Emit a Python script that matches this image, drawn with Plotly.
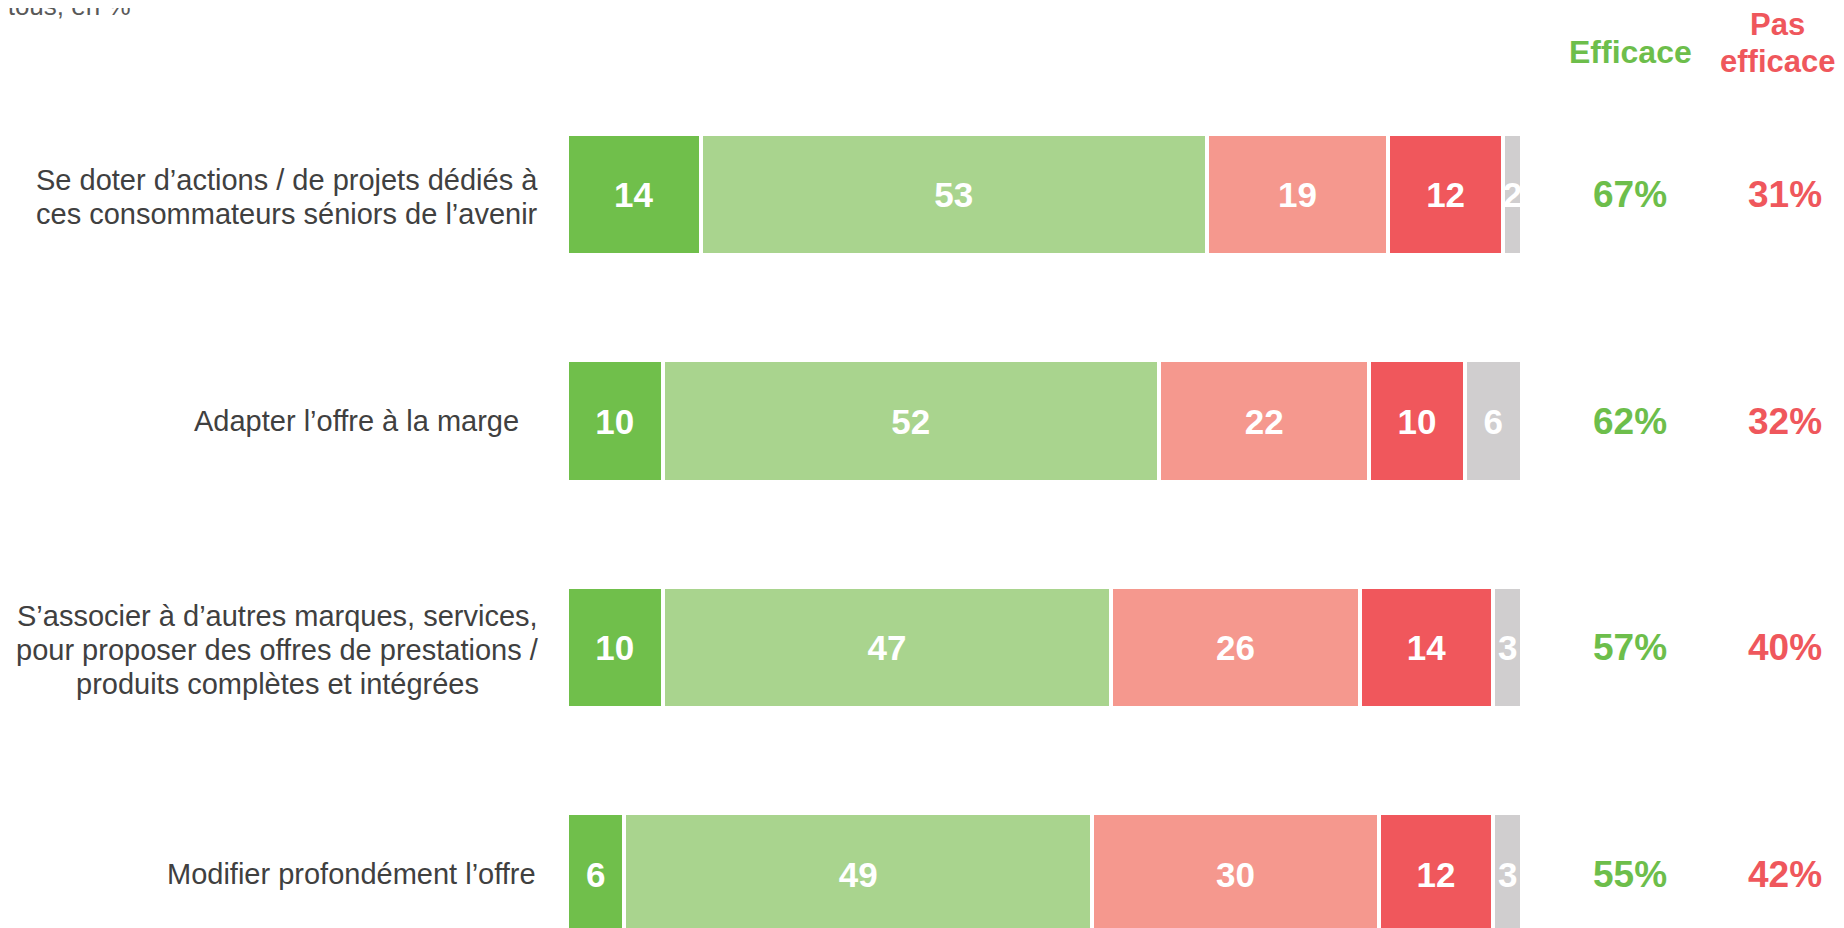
import plotly.graph_objects as go

# --- Données ---
categories = [
    "Se doter d’actions / de projets dédiés à<br>ces consommateurs séniors de l’avenir",
    "Adapter l’offre à la marge",
    "S’associer à d’autres marques, services,<br>pour proposer des offres de prestations /<br>produits complètes et intégrées",
    "Modifier profondément l’offre",
]
series_names = ["Très efficace", "Plutôt efficace", "Plutôt pas efficace", "Pas du tout efficace", "Ne sait pas"]
very_eff = [14, 10, 10, 6]
rather_eff = [53, 52, 47, 49]
rather_not = [19, 22, 26, 30]
not_at_all = [12, 10, 14, 12]
dont_know = [2, 6, 3, 3]
efficace = [67, 62, 57, 55]
pas_efficace = [31, 32, 40, 42]
header_eff = "Efficace"
header_pas = "Pas<br>efficace"
top_note = "à tous, en %"

colors = ["#70BF4B", "#A9D48E", "#F5988E", "#F0575C", "#D0CECF"]
GREEN_TXT = "#6DBE4B"
RED_TXT = "#EF575C"
LABEL_COL = "#404040"
FONT = "Arial, Liberation Sans, sans-serif"

# la page ajoute une marge de 8 px autour de la figure
OFF = 8
W, H = 1844 - OFF, 928 - OFF


def px(x):
    return (x - OFF) / W


def py(y):
    return 1 - (y - OFF) / H


positions = list(range(len(categories)))
# position horizontale des libellés (centre du bloc ou bord droit)
label_x = [287, 521, 277, 538]
label_anchor = ["center", "right", "center", "right"]
LINE_H = 34

fig = go.Figure()
for name, vals, col in zip(series_names,
                           [very_eff, rather_eff, rather_not, not_at_all, dont_know],
                           colors):
    fig.add_trace(go.Bar(
        x=vals,
        y=positions,
        orientation="h",
        name=name,
        marker=dict(color=col, line=dict(color="white", width=4)),
        width=0.535,
        text=[str(v) for v in vals],
        textposition="inside",
        insidetextanchor="middle",
        constraintext="none",
        textfont=dict(family=FONT, size=35, color="white", weight="bold"),
        hoverinfo="x+name",
    ))

# libellés des catégories : une annotation par ligne pour régler l'interligne
for i, lab in enumerate(categories):
    lines = lab.split("<br>")
    n = len(lines)
    for k, line in enumerate(lines):
        shift = (k - (n - 1) / 2) * LINE_H
        fig.add_annotation(
            x=px(label_x[i]), xref="paper", y=i, yref="y",
            yshift=-shift + (-2 if n > 1 else 0),
            text=line, showarrow=False, xanchor=label_anchor[i], yanchor="middle",
            align="center", font=dict(family=FONT, size=29, color=LABEL_COL),
        )

# colonnes Efficace / Pas efficace
for i, (e, p) in enumerate(zip(efficace, pas_efficace)):
    fig.add_annotation(x=px(1630), xref="paper", y=i, yref="y", text=f"<b>{e}%</b>",
                       showarrow=False, xanchor="center", yanchor="middle",
                       font=dict(family=FONT, size=37, color=GREEN_TXT))
    fig.add_annotation(x=px(1785), xref="paper", y=i, yref="y", text=f"<b>{p}%</b>",
                       showarrow=False, xanchor="center", yanchor="middle",
                       font=dict(family=FONT, size=37, color=RED_TXT))

fig.add_annotation(x=px(1630), xref="paper", y=py(52), yref="paper", text=f"<b>{header_eff}</b>",
                   showarrow=False, xanchor="center", yanchor="middle",
                   font=dict(family=FONT, size=32, color=GREEN_TXT))
for k, line in enumerate(header_pas.split("<br>")):
    fig.add_annotation(x=px(1777), xref="paper", y=py(25 + 37 * k), yref="paper",
                       text=f"<b>{line}</b>", showarrow=False, xanchor="center", yanchor="middle",
                       font=dict(family=FONT, size=31, color=RED_TXT))

# texte du haut (coupé comme sur l'original)
fig.add_annotation(x=px(133), xref="paper", y=py(6), yref="paper", text=top_note,
                   showarrow=False, xanchor="right", yanchor="middle",
                   font=dict(family=FONT, size=26, color="#595959"))

# axe y : centres des barres à 194.5 px, pas de 226.5 px
top_c, step = 194.5 - OFF, 226.5
fig.update_layout(
    width=W, height=H,
    barmode="stack",
    showlegend=False,
    plot_bgcolor="white",
    paper_bgcolor="white",
    margin=dict(l=0, r=0, t=0, b=0),
    xaxis=dict(range=[0, 100], domain=[px(567), px(1522)], visible=False),
    yaxis=dict(range=[(H - top_c) / step, -top_c / step], visible=False),
)

fig.write_html("out.html")
